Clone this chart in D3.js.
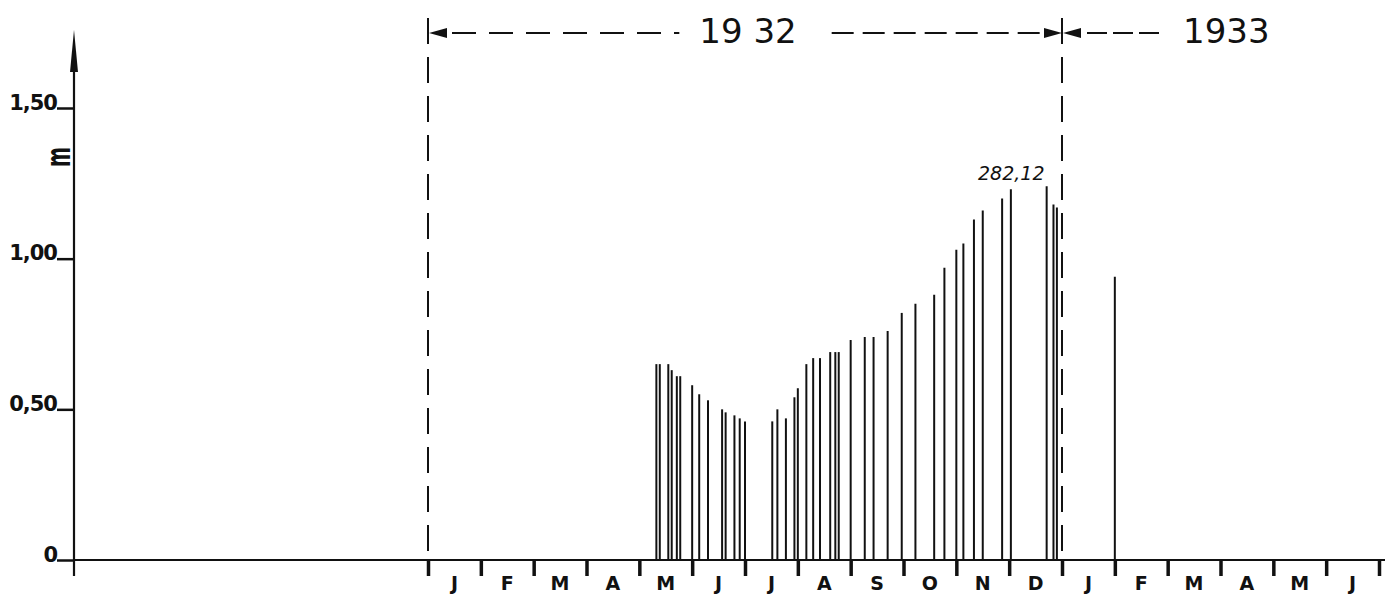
<!DOCTYPE html>
<html>
<head>
<meta charset="utf-8">
<script src="https://cdn.jsdelivr.net/npm/d3@7"></script>
<style>
  html, body { margin: 0; padding: 0; background: #fff; }
  svg { display: block; }
  text { font-family: 'DejaVu Sans', sans-serif; fill: #111; }
</style>
</head>
<body>
<div id="chart"></div>
<script>
/* global d3 */

// ---- data ----
const months1932 = ['J', 'F', 'M', 'A', 'M', 'J', 'J', 'A', 'S', 'O', 'N', 'D'];
const months1933 = ['J', 'F', 'M', 'A', 'M', 'J'];
const yearLabels = ['19 32', '1933'];
const yTicks = [0, 0.5, 1.0, 1.5];
const yTickLabels = ['0', '0,50', '1,00', '1,50'];
const yUnit = 'm';
const peakLabel = '282,12';

const gaugeDates = [
    '1932-05-11', '1932-05-13', '1932-05-18', '1932-05-20', '1932-05-23', '1932-05-25',
    '1932-06-01', '1932-06-05', '1932-06-10', '1932-06-18', '1932-06-20', '1932-06-25', '1932-06-28',
    '1932-07-01', '1932-07-17', '1932-07-20', '1932-07-25', '1932-07-30',
    '1932-08-01', '1932-08-06', '1932-08-10', '1932-08-14', '1932-08-20', '1932-08-23', '1932-08-25',
    '1932-09-01', '1932-09-09', '1932-09-14', '1932-09-22', '1932-09-30',
    '1932-10-08', '1932-10-19', '1932-10-25',
    '1932-11-01', '1932-11-05', '1932-11-11', '1932-11-16', '1932-11-27',
    '1932-12-02', '1932-12-23', '1932-12-27', '1932-12-29',
    '1933-02-01'
];
const gaugeLevels = [
    0.65, 0.65, 0.65, 0.63, 0.61, 0.61,
    0.58, 0.55, 0.53, 0.50, 0.49, 0.48, 0.47,
    0.46, 0.46, 0.50, 0.47, 0.54,
    0.57, 0.65, 0.67, 0.67, 0.69, 0.69, 0.69,
    0.73, 0.74, 0.74, 0.76, 0.82,
    0.85, 0.88, 0.97,
    1.03, 1.05, 1.13, 1.16, 1.20,
    1.23, 1.24, 1.18, 1.17,
    0.94
];

/**
 * Month position of a date, counted from 1 Jan 1932, months drawn equally wide.
 * @param {string} s - date as YYYY-MM-DD
 * @returns {number}
 */
function monthPos(s) {
    const [yr, mo, dy] = s.split('-').map(Number);
    const days = new Date(yr, mo, 0).getDate();
    return (yr - 1932) * 12 + (mo - 1) + (dy - 1) / days;
}

/**
 * Draws the gauge-level chart.
 * @param {string} selector - container
 */
function drawGaugeChart(selector) {
    const W = 1389, H = 597;
    const svg = d3.select(selector).append('svg')
        .attr('width', W)
        .attr('height', H);

    const allMonths = months1932.concat(months1933);

    // Scales
    const x = d3.scaleLinear()
        .domain([0, allMonths.length])
        .range([428, 1379]);

    const y = d3.scaleLinear()
        .domain([0, 1.5])
        .range([560, 108]);

    const axisX = 74;

    // Base line
    svg.append('line')
        .attr('x1', axisX).attr('x2', 1385)
        .attr('y1', y(0)).attr('y2', y(0))
        .attr('stroke', '#111').attr('stroke-width', 2);

    // Month ticks below base line
    const xAxis = svg.append('g')
        .attr('transform', `translate(0,${y(0)})`)
        .call(d3.axisBottom(x)
            .tickValues(d3.range(allMonths.length + 1))
            .tickSize(16)
            .tickFormat(''));
    xAxis.select('.domain').remove();
    xAxis.selectAll('.tick line')
        .attr('stroke', '#111')
        .attr('stroke-width', 3.5);

    // Month letters, centred in each month
    svg.selectAll('.month-label')
        .data(allMonths)
        .enter().append('text')
        .attr('class', 'month-label')
        .attr('x', (d, i) => x(i + 0.5))
        .attr('y', 590)
        .attr('text-anchor', 'middle')
        .style('font-size', '19px')
        .style('font-weight', 'bold')
        .text(d => d);

    // Y axis with arrow
    svg.append('line')
        .attr('x1', axisX).attr('x2', axisX)
        .attr('y1', 576).attr('y2', 60)
        .attr('stroke', '#111').attr('stroke-width', 2.2);
    svg.append('path')
        .attr('d', `M${axisX},30 L${axisX - 4},72 L${axisX + 4},72 Z`)
        .attr('fill', '#111');

    const yAxis = svg.append('g')
        .attr('transform', `translate(${axisX},0)`)
        .call(d3.axisLeft(y)
            .tickValues(yTicks)
            .tickSize(17)
            .tickFormat((d, i) => yTickLabels[i]));
    yAxis.select('.domain').remove();
    yAxis.selectAll('.tick line')
        .attr('stroke', '#111')
        .attr('stroke-width', 2.5);
    yAxis.selectAll('.tick text')
        .attr('x', -17)
        .attr('dy', '0.05em')
        .style('font-family', "'DejaVu Sans', sans-serif")
        .style('font-size', '21px')
        .style('font-weight', 'bold')
        .style('letter-spacing', '-1px')
        .style('fill', '#111');

    // unit, written sideways
    svg.append('text')
        .attr('transform', 'translate(70,157) rotate(-90) scale(0.8,1.4)')
        .attr('text-anchor', 'middle')
        .style('font-size', '24px')
        .style('font-weight', 'bold')
        .text(yUnit);

    // Year boundaries, dashed
    [0, 12].forEach(m => {
        svg.append('line')
            .attr('x1', x(m)).attr('x2', x(m))
            .attr('y1', 18).attr('y2', y(0))
            .attr('stroke', '#111')
            .attr('stroke-width', 2)
            .attr('stroke-dasharray', '26,13');
    });

    // Year spans at the top
    const topY = 33;
    const arrow = (tipX, dir) => {
        const b = tipX + dir * 18;
        svg.append('path')
            .attr('d', `M${tipX},${topY} L${b},${topY - 5} L${b},${topY + 5} Z`)
            .attr('fill', '#111');
    };
    const dashed = (x1, x2, dash) => {
        svg.append('line')
            .attr('x1', x1).attr('x2', x2)
            .attr('y1', topY).attr('y2', topY)
            .attr('stroke', '#111')
            .attr('stroke-width', 2)
            .attr('stroke-dasharray', dash);
    };

    const year1 = svg.append('text')
        .attr('x', x(6) + 3)
        .attr('y', 43)
        .attr('text-anchor', 'middle')
        .attr('xml:space', 'preserve')
        .style('font-size', '34px')
        .text(yearLabels[0]);
    const b1 = year1.node().getBBox();

    arrow(x(0) + 1, 1);
    dashed(x(0) + 24, b1.x - 20, '24,13');
    dashed(b1.x + b1.width + 35, x(12) - 18, '22,9');
    arrow(x(12), -1);
    arrow(x(12) + 1, 1);
    dashed(x(12) + 25, x(12) + 103, '20,6');

    svg.append('text')
        .attr('x', x(12) + 121)
        .attr('y', 43)
        .style('font-size', '34px')
        .text(yearLabels[1]);

    // Gauge readings as thin verticals
    const readings = gaugeDates.map((d, i) => ({ m: monthPos(d), v: gaugeLevels[i] }));
    svg.selectAll('.reading')
        .data(readings)
        .enter().append('line')
        .attr('class', 'reading')
        .attr('x1', d => x(d.m))
        .attr('x2', d => x(d.m))
        .attr('y1', y(0))
        .attr('y2', d => y(d.v))
        .attr('stroke', '#111')
        .attr('stroke-width', 2);

    // level note near the peak
    svg.append('text')
        .attr('x', 978)
        .attr('y', 180)
        .style('font-size', '19px')
        .style('font-style', 'italic')
        .text(peakLabel);
}

drawGaugeChart('#chart');
</script>
</body>
</html>
